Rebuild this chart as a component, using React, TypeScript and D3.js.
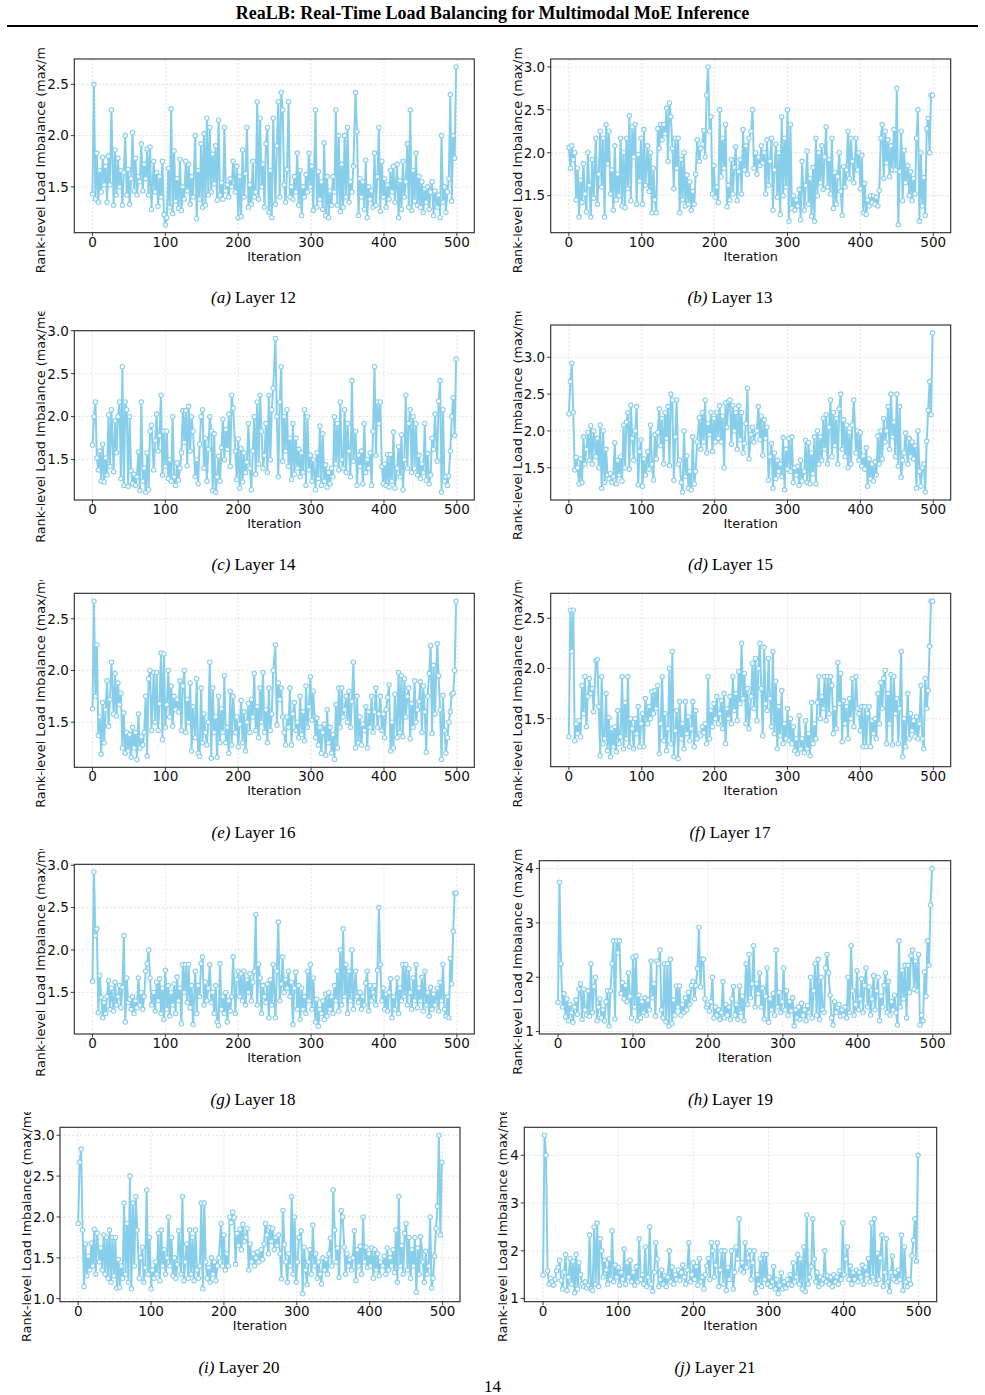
import React from 'react';
import * as d3 from 'd3';

// Every series runs over iterations 0..499, sampled about every 2 steps
const LAST_ITER = 499;

const layer12 = [
  1.43, 2.5, 1.38, 1.83, 1.35, 1.66, 1.45, 1.79, 1.52, 1.7,
  1.35, 1.8, 1.52, 2.25, 1.32, 1.86, 1.42, 1.78, 1.5, 1.66,
  1.32, 1.64, 2.0, 1.42, 1.67, 1.33, 1.58, 2.03, 1.46, 1.78,
  1.42, 1.6, 1.55, 1.92, 1.46, 1.72, 1.58, 1.87, 1.42, 1.89,
  1.28, 1.75, 1.45, 1.64, 1.31, 1.6, 1.4, 1.75, 1.23, 1.13,
  1.2, 1.68, 1.3, 2.26, 1.24, 1.85, 1.36, 1.58, 1.29, 1.77,
  1.27, 1.5, 1.38, 1.75, 1.46, 1.72, 1.33, 1.6, 1.4, 2.0,
  1.19, 1.66, 1.38, 1.92, 1.3, 2.02, 1.32, 2.17, 1.42, 2.08,
  1.45, 1.82, 1.53, 1.9, 1.37, 2.15, 1.42, 1.54, 1.38, 2.08,
  1.46, 1.52, 1.4, 1.58, 1.5, 1.75, 1.45, 1.7, 1.2, 1.6,
  1.21, 1.86, 1.4, 1.63, 2.08, 1.3, 1.52, 1.33, 1.75, 1.4,
  1.45, 2.33, 1.38, 2.17, 1.5, 1.72, 1.3, 1.92, 2.08, 1.25,
  1.66, 1.2, 2.17, 1.33, 1.9, 2.33, 1.4, 2.42, 2.25, 1.52,
  1.35, 1.67, 2.33, 1.4, 1.5, 1.38, 1.6, 1.45, 1.83, 1.32,
  1.66, 1.22, 1.5, 1.4, 1.62, 1.45, 1.83, 1.5, 1.7, 1.27,
  2.25, 1.3, 1.65, 1.38, 1.55, 1.28, 1.93, 1.22, 1.6, 1.2,
  1.46, 1.32, 1.6, 1.45, 2.25, 1.32, 2.0, 1.26, 1.72, 1.3,
  2.0, 1.4, 2.08, 1.35, 1.55, 1.45, 1.7, 2.42, 2.04, 1.22,
  1.58, 1.4, 1.55, 1.28, 1.76, 1.2, 1.5, 1.38, 1.46, 1.3,
  1.83, 1.32, 1.6, 2.08, 1.26, 1.75, 1.4, 1.58, 1.3, 1.52,
  1.38, 1.66, 1.45, 1.7, 1.35, 1.72, 1.2, 1.56, 1.28, 1.75,
  1.4, 1.55, 1.92, 1.3, 2.25, 1.27, 1.66, 1.36, 1.83, 1.32,
  1.6, 1.3, 1.55, 1.25, 1.48, 1.35, 1.5, 1.28, 1.45, 1.55,
  1.22, 1.46, 1.3, 1.42, 1.2, 2.0, 1.35, 1.5, 1.25, 1.45,
  1.58, 2.4, 1.36, 2.0, 1.78, 2.67,
];

const layer13 = [
  2.06, 1.82, 2.08, 1.92, 2.0, 1.45, 1.82, 1.25, 1.68, 1.42,
  1.87, 1.52, 1.31, 2.0, 1.62, 1.25, 1.92, 1.47, 2.17, 1.4,
  1.75, 2.25, 1.6, 2.17, 1.25, 2.33, 1.87, 2.25, 1.52, 1.8,
  1.33, 2.08, 1.45, 1.75, 1.5, 2.17, 1.38, 2.0, 1.36, 2.17,
  1.58, 2.43, 1.44, 2.3, 1.95, 2.33, 1.4, 1.98, 1.67, 2.17,
  1.4, 2.27, 1.62, 2.08, 1.55, 2.0, 1.3, 1.82, 1.45, 1.3,
  2.28, 2.05, 2.33, 2.15, 2.33, 2.22, 2.52, 1.9, 2.58, 2.42,
  2.05, 1.58, 2.17, 1.82, 2.17, 1.3, 1.92, 1.45, 2.0, 1.38,
  1.74, 1.4, 1.66, 1.33, 1.55, 1.4, 1.75, 2.15, 1.9, 2.05,
  2.1, 2.26, 1.95, 2.67, 3.0, 2.25, 2.42, 1.52, 1.85, 1.48,
  1.6, 1.42, 2.5, 1.72, 2.17, 1.82, 2.33, 1.37, 1.62, 1.45,
  1.92, 1.52, 1.83, 2.07, 1.44, 1.78, 1.92, 1.52, 2.27, 1.8,
  2.08, 1.75, 2.17, 2.25, 2.5, 1.82, 2.0, 1.75, 1.95, 1.85,
  2.08, 1.88, 2.0, 1.52, 2.15, 1.62, 1.9, 2.17, 1.33, 1.8,
  2.1, 1.48, 2.0, 1.28, 2.42, 1.5, 2.17, 1.6, 2.5, 1.2,
  2.33, 1.35, 1.5, 1.33, 1.45, 1.38, 1.57, 1.22, 1.9, 1.33,
  1.62, 2.02, 1.4, 1.7, 1.26, 1.83, 1.2, 2.17, 1.5, 2.0,
  1.65, 2.08, 1.57, 1.95, 2.3, 1.6, 1.92, 1.52, 2.17, 1.35,
  1.77, 1.4, 1.72, 2.0, 1.55, 1.27, 1.84, 1.6, 1.8, 2.25,
  1.7, 2.17, 1.9, 1.65, 2.17, 1.8, 2.0, 1.58, 1.97, 1.3,
  1.64, 1.28, 1.45, 1.38, 1.5, 1.42, 1.5, 1.4, 1.48, 1.38,
  1.56, 2.17, 2.33, 1.7, 2.25, 1.88, 2.15, 1.72, 2.08, 1.8,
  2.27, 1.8, 2.75, 1.16, 1.78, 2.25, 1.44, 2.03, 1.65, 1.85,
  1.5, 1.78, 1.44, 1.7, 1.52, 2.17, 2.5, 1.2, 2.0, 1.38,
  1.71, 1.27, 2.28, 2.4, 2.0, 2.67, 2.67,
];

const layer14 = [
  1.67, 2.0, 2.17, 1.52, 1.38, 1.6, 1.25, 1.68, 1.24, 1.52,
  1.32, 2.02, 1.42, 2.08, 1.36, 1.95, 1.58, 2.0, 2.17, 1.28,
  2.58, 1.2, 2.17, 2.08, 1.19, 2.0, 1.37, 1.22, 1.33, 1.2,
  1.3, 1.59, 1.14, 2.17, 1.25, 1.4, 1.12, 1.58, 1.15, 1.83,
  1.9, 1.38, 1.72, 2.03, 1.6, 1.78, 2.25, 1.32, 1.83, 1.42,
  1.83, 1.28, 1.5, 1.25, 2.0, 1.3, 1.2, 1.46, 1.26, 1.4,
  1.58, 2.07, 1.7, 2.07, 1.43, 2.12, 1.6, 2.0, 1.83, 1.3,
  1.5, 1.22, 1.68, 2.0, 2.08, 1.4, 1.75, 1.25, 1.62, 2.0,
  1.83, 1.14, 1.8, 1.12, 1.3, 1.54, 1.25, 1.64, 1.97, 1.5,
  1.85, 1.62, 2.03, 1.42, 2.25, 2.1, 1.6, 1.27, 1.74, 1.17,
  1.63, 1.24, 1.58, 1.35, 1.47, 1.92, 1.4, 1.15, 1.6, 2.0,
  1.33, 2.17, 1.45, 2.25, 1.83, 1.4, 1.55, 1.92, 1.35, 2.25,
  1.5, 2.08, 2.33, 2.91, 2.0, 1.3, 2.17, 2.58, 1.48, 2.0,
  1.6, 2.08, 1.42, 1.75, 1.27, 1.92, 1.33, 1.75, 1.4, 1.62,
  1.3, 1.58, 1.35, 2.08, 1.2, 2.0, 1.38, 1.55, 1.25, 1.5,
  1.15, 1.58, 1.28, 1.89, 1.2, 1.8, 1.25, 1.44, 1.18, 1.35,
  1.22, 1.4, 1.3, 2.0, 1.45, 1.92, 1.38, 2.17, 1.5, 1.4,
  2.08, 1.35, 1.92, 1.6, 1.3, 2.42, 1.48, 1.83, 1.2, 1.55,
  1.42, 1.6, 1.22, 1.92, 1.35, 1.5, 1.4, 1.58, 1.2, 1.83,
  2.58, 1.55, 2.17, 1.92, 2.17, 1.42, 1.22, 1.45, 1.2, 1.56,
  1.18, 1.56, 1.25, 1.82, 1.17, 1.4, 1.65, 1.3, 1.79, 1.15,
  1.5, 2.25, 1.4, 1.92, 2.08, 1.35, 2.0, 1.4, 1.92, 1.32,
  1.55, 1.28, 1.45, 1.35, 1.92, 1.26, 1.57, 1.22, 1.32, 1.75,
  1.62, 2.03, 1.48, 2.18, 2.42, 1.12, 2.08, 1.25, 1.3, 1.2,
  1.31, 1.6, 2.0, 2.22, 1.78, 2.67,
];

const layer15 = [
  2.23, 2.67, 2.92, 2.25, 1.47, 1.64, 1.5, 1.28, 1.62, 1.3,
  1.92, 1.55, 1.75, 1.98, 1.6, 2.07, 1.55, 2.0, 1.65, 1.9,
  1.5, 2.08, 1.22, 2.0, 1.3, 1.75, 1.4, 1.35, 1.42, 1.3,
  1.38, 1.84, 1.28, 1.6, 1.4, 1.65, 1.32, 2.08, 1.5, 2.12,
  2.25, 1.48, 2.35, 1.9, 1.6, 2.0, 2.33, 1.27, 1.72, 1.88,
  1.25, 1.62, 1.4, 1.72, 1.48, 2.08, 1.55, 1.33, 1.95, 1.62,
  1.98, 2.3, 1.8, 2.17, 1.55, 2.25, 1.9, 2.33, 1.53, 2.5,
  2.42, 1.33, 1.92, 2.42, 1.55, 1.6, 1.3, 1.17, 2.0, 1.38,
  1.66, 1.22, 1.45, 1.2, 1.92, 1.28, 1.45, 1.85, 2.18, 1.75,
  2.25, 1.85, 2.42, 1.7, 2.1, 1.95, 2.25, 1.72, 2.17, 1.85,
  2.25, 1.9, 2.34, 1.85, 2.2, 1.5, 2.38, 2.05, 2.4, 2.42,
  1.82, 2.35, 2.0, 2.25, 1.75, 2.34, 1.88, 2.25, 1.7, 1.83,
  2.1, 2.58, 1.62, 1.95, 2.05, 1.85, 1.98, 2.0, 2.33, 1.88,
  2.2, 1.67, 2.15, 1.9, 2.05, 1.33, 1.65, 1.83, 1.22, 1.7,
  1.35, 1.6, 1.45, 1.55, 1.38, 1.91, 1.2, 1.75, 1.48, 1.9,
  1.45, 1.92, 1.3, 1.5, 1.4, 1.52, 1.26, 1.6, 1.32, 1.45,
  1.87, 1.3, 1.84, 1.28, 1.7, 1.42, 1.92, 1.28, 2.0, 1.55,
  1.92, 1.6, 2.17, 1.75, 2.22, 1.55, 2.05, 2.42, 1.65, 2.25,
  1.8, 2.17, 1.55, 2.3, 2.5, 1.75, 2.15, 1.65, 2.08, 1.5,
  1.98, 1.55, 2.08, 2.42, 1.7, 2.0, 1.6, 1.98, 1.52, 1.66,
  1.48, 1.77, 1.25, 1.62, 1.35, 1.55, 1.32, 1.58, 1.4, 1.93,
  1.55, 2.0, 1.62, 2.17, 1.85, 2.0, 2.33, 1.75, 2.5, 1.92,
  2.12, 1.65, 2.5, 1.52, 2.33, 1.37, 1.6, 1.7, 1.97, 1.55,
  1.9, 1.65, 1.85, 1.62, 1.8, 1.22, 2.0, 1.45, 1.25, 1.5,
  1.55, 1.17, 1.86, 2.28, 2.67, 2.22, 3.33,
];

const layer16 = [
  1.63, 2.67, 1.75, 2.25, 1.37, 1.55, 1.19, 1.69, 1.3, 1.62,
  1.9, 1.46, 1.72, 2.08, 1.58, 1.97, 1.56, 1.88, 1.67, 1.78,
  1.25, 1.59, 1.2, 1.4, 1.22, 1.38, 1.16, 1.45, 1.25, 1.4,
  1.14, 1.58, 1.25, 1.36, 1.28, 1.4, 1.75, 1.17, 1.92, 2.0,
  1.42, 1.98, 1.5, 1.98, 1.42, 1.68, 2.17, 1.33, 2.16, 1.45,
  1.67, 2.0, 1.55, 1.85, 1.46, 1.75, 1.62, 1.72, 1.6, 1.9,
  1.42, 1.85, 2.0, 1.4, 1.72, 1.5, 1.88, 1.22, 1.65, 1.35,
  1.92, 1.2, 1.17, 1.83, 1.3, 1.58, 1.4, 1.28, 1.5, 2.08,
  1.15, 1.83, 1.4, 1.55, 1.16, 1.75, 1.3, 1.63, 1.4, 1.95,
  1.3, 1.45, 1.2, 1.8, 1.28, 1.75, 1.4, 1.55, 1.26, 1.48,
  1.71, 1.3, 1.6, 1.22, 1.5, 1.68, 1.4, 1.72, 1.55, 1.97,
  1.42, 1.65, 1.35, 1.83, 1.5, 1.98, 1.4, 1.62, 1.3, 1.83,
  1.42, 1.58, 2.0, 2.25, 1.47, 1.88, 1.72, 1.83, 1.55, 1.4,
  1.28, 1.55, 1.45, 1.83, 1.28, 1.58, 1.69, 1.42, 1.5, 1.35,
  1.75, 1.38, 1.6, 1.32, 1.85, 1.45, 1.65, 1.94, 1.52, 1.8,
  1.35, 1.54, 1.28, 1.45, 1.2, 1.4, 1.48, 1.18, 1.62, 1.3,
  1.45, 1.2, 1.38, 1.14, 1.67, 1.25, 1.83, 1.45, 1.83, 1.55,
  1.62, 1.75, 1.5, 1.8, 1.45, 1.7, 2.08, 1.25, 1.75, 1.3,
  1.55, 1.28, 1.48, 1.42, 1.65, 1.25, 1.6, 1.45, 1.75, 1.4,
  1.6, 1.83, 1.45, 1.58, 1.75, 1.42, 1.58, 1.35, 1.62, 1.74,
  1.86, 1.22, 1.5, 1.25, 1.77, 1.35, 1.98, 1.4, 1.95, 1.36,
  1.92, 1.55, 1.75, 1.83, 1.34, 1.68, 1.45, 1.9, 1.5, 1.62,
  1.7, 1.89, 1.4, 1.85, 1.6, 1.21, 1.75, 1.97, 2.24, 1.39,
  2.05, 1.58, 2.26, 1.95, 1.62, 1.14, 1.76, 1.42, 1.2, 1.35,
  1.5, 1.6, 1.77, 1.78, 2.0, 2.67,
];

const layer17 = [
  1.32, 2.58, 2.17, 2.58, 1.28, 1.45, 1.35, 1.48, 1.32, 1.83,
  1.55, 1.92, 1.42, 1.72, 1.9, 1.75, 1.8, 1.57, 2.08, 2.09,
  1.62, 1.13, 1.92, 1.25, 1.3, 1.75, 1.18, 1.51, 1.12, 1.4,
  1.22, 1.42, 1.17, 1.58, 1.25, 1.32, 1.92, 1.2, 1.66, 1.3,
  1.92, 1.22, 1.5, 1.4, 1.2, 1.5, 1.35, 1.62, 1.22, 1.45,
  1.55, 1.22, 1.7, 1.45, 1.62, 1.5, 1.77, 1.55, 1.78, 1.6,
  1.83, 1.15, 1.45, 1.92, 1.28, 1.55, 1.18, 1.4, 2.0, 1.25,
  2.17, 1.12, 1.38, 1.58, 1.1, 1.67, 1.3, 1.45, 1.2, 1.67,
  1.35, 1.52, 1.28, 1.4, 1.67, 1.22, 1.58, 1.3, 1.35, 1.33,
  1.42, 1.36, 1.45, 1.25, 1.92, 1.3, 1.58, 1.42, 1.65, 1.5,
  1.72, 1.45, 1.55, 1.68, 1.4, 1.75, 1.25, 1.6, 1.5, 1.72,
  1.45, 1.92, 1.58, 1.75, 1.48, 1.97, 1.65, 2.25, 1.7, 1.95,
  1.45, 1.8, 1.4, 1.72, 2.05, 1.6, 2.1, 1.48, 2.0, 2.25,
  1.8, 1.33, 2.21, 1.65, 1.58, 2.1, 1.7, 1.42, 2.17, 1.35,
  1.87, 1.2, 1.62, 1.33, 1.78, 1.25, 1.45, 1.3, 1.6, 1.28,
  1.5, 1.25, 1.42, 1.18, 1.3, 1.15, 1.53, 1.2, 1.3, 1.16,
  1.48, 1.2, 1.35, 1.13, 1.66, 1.25, 1.45, 1.3, 1.66, 1.92,
  1.5, 1.72, 1.6, 1.92, 1.48, 1.92, 1.55, 1.92, 1.83, 1.35,
  1.6, 1.4, 2.06, 1.65, 1.95, 1.27, 1.68, 1.45, 1.62, 1.3,
  1.7, 1.5, 1.9, 1.42, 1.92, 1.6, 1.55, 1.38, 1.62, 1.22,
  1.62, 1.22, 1.55, 1.62, 1.22, 1.48, 1.35, 1.5, 1.3, 1.75,
  1.45, 1.86, 1.6, 1.9, 1.98, 1.25, 1.75, 1.45, 1.94, 1.24,
  1.92, 1.55, 1.7, 1.25, 1.6, 2.17, 1.12, 1.5, 1.22, 1.75,
  1.3, 1.55, 1.38, 1.48, 1.32, 1.52, 1.3, 1.45, 1.83, 1.3,
  1.2, 1.9, 1.6, 1.78, 2.22, 2.67, 2.67,
];

const layer18 = [
  1.63, 2.92, 2.17, 2.25, 1.26, 1.7, 1.44, 1.2, 1.38, 1.25,
  1.45, 1.64, 1.3, 1.55, 1.28, 1.62, 1.35, 1.45, 1.58, 1.32,
  1.56, 2.17, 1.15, 1.67, 1.38, 1.42, 1.3, 1.45, 1.25, 1.4,
  1.32, 1.67, 1.35, 1.5, 1.3, 1.45, 1.75, 1.84, 2.0, 1.67,
  1.35, 1.5, 1.28, 1.62, 1.4, 1.66, 1.25, 1.55, 1.18, 1.76,
  1.3, 1.58, 1.22, 1.5, 1.35, 1.6, 1.25, 1.68, 1.4, 1.55,
  1.13, 1.83, 1.5, 1.83, 1.38, 1.83, 1.32, 1.58, 1.12, 1.75,
  1.25, 1.58, 1.45, 1.84, 1.92, 1.35, 1.62, 1.4, 1.55, 1.83,
  1.38, 1.5, 1.25, 1.58, 1.15, 1.11, 1.84, 1.3, 1.45, 1.25,
  1.5, 1.15, 1.4, 1.28, 1.45, 1.92, 1.25, 1.65, 1.75, 1.45,
  1.72, 1.4, 1.75, 1.35, 1.65, 1.5, 1.72, 1.4, 1.62, 1.75,
  2.42, 1.35, 1.83, 1.67, 1.25, 1.58, 1.45, 1.38, 1.6, 1.2,
  1.65, 1.35, 1.83, 1.2, 1.75, 2.33, 1.4, 1.6, 1.92, 1.5,
  1.65, 1.55, 1.75, 1.45, 1.62, 1.12, 1.55, 1.74, 1.3, 1.58,
  1.18, 1.55, 1.3, 1.45, 1.25, 1.75, 1.4, 1.83, 1.3, 1.67,
  1.15, 1.42, 1.1, 1.3, 1.25, 1.4, 1.18, 1.48, 1.22, 1.5,
  1.3, 1.45, 1.25, 1.58, 1.4, 1.75, 1.28, 2.0, 1.35, 2.25,
  1.45, 1.83, 1.25, 1.75, 1.4, 2.0, 1.3, 1.75, 1.45, 1.38,
  1.5, 1.3, 1.45, 1.35, 1.61, 1.75, 1.28, 1.58, 1.4, 1.5,
  1.58, 1.35, 1.76, 2.5, 1.83, 1.4, 1.55, 1.3, 1.48, 1.28,
  1.5, 1.66, 1.2, 1.45, 1.3, 1.67, 1.25, 1.55, 1.4, 1.83,
  1.45, 1.83, 1.35, 1.78, 1.5, 1.3, 1.67, 1.4, 1.83, 1.32,
  1.55, 1.4, 1.68, 1.28, 1.75, 1.35, 1.5, 1.22, 1.56, 1.3,
  1.48, 1.35, 1.55, 1.28, 1.62, 1.4, 1.83, 1.3, 1.22, 1.45,
  1.2, 1.9, 1.6, 2.22, 2.67, 2.67,
];

const layer19 = [
  1.54, 3.75, 2.25, 1.45, 1.7, 1.27, 1.6, 1.2, 1.5, 1.35,
  1.17, 1.45, 1.58, 1.32, 1.78, 1.88, 1.22, 1.78, 1.4, 1.3,
  1.75, 1.28, 2.25, 1.35, 1.83, 2.0, 1.2, 1.45, 1.6, 1.25,
  1.4, 1.2, 1.55, 1.75, 1.1, 1.75, 2.25, 2.67, 1.23, 2.67,
  2.45, 2.67, 1.7, 1.9, 1.6, 1.85, 1.55, 2.08, 1.65, 1.25,
  2.37, 1.45, 2.39, 1.2, 1.67, 1.25, 1.55, 1.35, 1.62, 1.3,
  1.58, 1.4, 2.3, 1.62, 1.88, 1.28, 2.3, 2.25, 2.5, 1.4,
  1.25, 2.25, 1.18, 2.25, 1.1, 2.33, 1.15, 1.58, 1.3, 1.84,
  1.45, 1.84, 1.3, 1.5, 1.35, 1.62, 1.4, 1.72, 1.5, 1.85,
  1.92, 1.6, 1.85, 2.16, 2.92, 1.82, 2.33, 2.33, 1.6, 1.45,
  1.5, 1.38, 1.55, 2.0, 1.25, 1.45, 1.3, 1.4, 1.22, 1.35,
  1.92, 1.25, 1.5, 1.3, 1.45, 1.22, 1.6, 1.83, 1.3, 1.5,
  1.22, 1.84, 1.35, 1.65, 1.2, 2.25, 1.5, 2.42, 1.62, 1.88,
  2.58, 1.45, 1.88, 1.7, 2.08, 1.45, 1.8, 1.23, 1.65, 2.17,
  1.17, 1.6, 1.4, 1.7, 1.3, 2.5, 1.45, 1.72, 1.35, 1.55,
  2.17, 1.4, 1.75, 1.3, 1.55, 1.38, 1.62, 1.1, 1.4, 1.25,
  1.45, 1.22, 1.52, 1.3, 1.4, 1.2, 1.48, 1.35, 2.0, 1.25,
  1.75, 2.25, 1.3, 2.33, 1.22, 2.0, 1.4, 1.35, 2.17, 2.42,
  2.08, 1.67, 1.25, 1.12, 1.55, 1.35, 1.45, 1.5, 1.28, 1.4,
  1.3, 1.45, 1.25, 2.0, 1.35, 2.58, 1.75, 1.3, 1.5, 2.12,
  1.4, 1.6, 1.97, 1.35, 1.85, 2.17, 1.45, 1.82, 1.3, 1.6,
  2.03, 1.4, 1.75, 2.0, 1.2, 1.65, 1.45, 1.85, 2.08, 1.35,
  1.92, 1.3, 1.55, 1.4, 1.67, 1.35, 1.12, 2.67, 1.45, 2.13,
  1.6, 2.22, 1.25, 2.22, 1.72, 2.4, 2.5, 1.78, 2.3, 1.75,
  2.42, 1.12, 1.3, 1.2, 2.1, 1.65, 2.67, 2.22, 3.33, 4.0,
];

const layer20 = [
  1.92, 2.67, 2.83, 1.84, 1.15, 1.67, 1.28, 1.52, 1.35, 1.68,
  1.4, 1.85, 1.3, 1.8, 1.45, 1.62, 1.35, 1.78, 1.3, 1.75,
  1.25, 1.84, 1.2, 1.75, 1.28, 1.75, 1.13, 1.48, 1.14, 1.4,
  1.25, 2.17, 1.3, 1.92, 1.2, 2.5, 1.12, 2.17, 1.4, 2.25,
  1.84, 1.25, 1.5, 1.63, 1.2, 1.38, 2.33, 1.3, 1.75, 1.12,
  1.35, 1.25, 1.45, 1.3, 1.8, 1.22, 1.84, 1.4, 1.6, 1.3,
  1.5, 2.0, 1.4, 1.75, 1.28, 1.5, 1.25, 1.42, 1.83, 1.3,
  2.25, 1.22, 1.45, 1.67, 1.25, 1.84, 1.3, 1.75, 1.22, 1.84,
  1.35, 1.25, 1.4, 2.17, 1.12, 2.17, 1.45, 1.25, 1.38, 1.2,
  1.5, 1.3, 1.45, 1.22, 1.4, 1.5, 1.92, 1.4, 1.78, 1.35,
  1.55, 1.4, 2.0, 1.93, 2.06, 1.99, 1.42, 1.8, 1.65, 1.85,
  1.6, 1.91, 1.7, 1.75, 1.86, 1.35, 1.67, 1.45, 1.55, 1.4,
  1.5, 1.57, 1.45, 1.6, 1.48, 1.67, 1.92, 1.78, 1.55, 1.87,
  1.7, 1.86, 1.6, 1.75, 1.65, 1.78, 1.55, 1.24, 2.08, 1.66,
  1.45, 1.2, 1.55, 1.4, 2.25, 1.3, 2.0, 1.2, 1.45, 1.75,
  1.83, 1.06, 1.63, 1.35, 1.17, 1.45, 1.6, 1.3, 1.9, 1.4,
  1.55, 1.25, 1.45, 1.3, 1.18, 1.5, 1.35, 1.48, 1.3, 1.55,
  1.74, 1.4, 2.33, 1.84, 1.45, 1.62, 1.26, 2.08, 2.0, 1.63,
  1.3, 1.55, 1.4, 1.48, 1.35, 1.5, 1.83, 1.22, 1.6, 1.4,
  1.64, 1.3, 2.0, 1.45, 1.63, 1.38, 1.55, 1.4, 1.62, 1.25,
  1.6, 1.35, 1.55, 1.28, 1.45, 1.4, 1.52, 1.3, 1.62, 1.35,
  1.5, 1.4, 1.6, 1.32, 1.84, 1.2, 2.25, 1.4, 1.65, 1.3,
  1.8, 1.92, 1.35, 1.75, 1.25, 1.6, 1.4, 1.75, 1.08, 1.62,
  1.3, 1.76, 1.45, 1.2, 1.58, 1.3, 1.4, 2.0, 1.13, 1.25,
  1.52, 1.86, 2.13, 3.0, 1.78, 2.67,
];

const layer21 = [
  1.49, 4.42, 4.0, 1.58, 1.3, 1.42, 1.35, 1.28, 1.4, 1.58,
  1.65, 1.8, 1.38, 1.2, 1.55, 1.92, 1.17, 1.45, 1.84, 1.3,
  1.78, 1.12, 1.92, 1.2, 1.75, 1.5, 1.3, 1.25, 1.35, 1.22,
  1.28, 2.33, 1.2, 1.17, 2.5, 1.3, 2.58, 1.25, 2.25, 2.0,
  1.45, 1.8, 1.6, 1.3, 1.83, 1.4, 2.42, 1.35, 1.7, 1.45,
  1.65, 1.28, 1.55, 1.4, 2.04, 1.3, 1.75, 1.45, 1.8, 1.35,
  1.55, 1.28, 1.67, 1.35, 2.25, 1.4, 1.5, 1.3, 2.08, 1.25,
  1.45, 2.5, 1.3, 1.15, 1.55, 2.17, 1.83, 1.25, 1.4, 1.6,
  1.3, 1.48, 1.25, 1.45, 2.0, 1.35, 1.66, 1.3, 1.5, 1.4,
  1.6, 1.38, 1.55, 1.7, 1.45, 1.3, 1.6, 2.17, 1.35, 1.5,
  1.75, 1.4, 1.67, 1.28, 1.84, 1.35, 1.45, 1.2, 1.5, 1.68,
  1.84, 1.4, 2.17, 2.0, 1.45, 1.7, 2.17, 1.25, 1.6, 2.0,
  1.3, 2.0, 1.17, 1.65, 1.4, 2.0, 1.2, 1.55, 2.08, 1.83,
  2.67, 1.6, 1.75, 1.55, 2.17, 1.65, 1.85, 2.0, 1.4, 1.75,
  2.0, 1.12, 1.5, 1.3, 1.83, 1.25, 1.92, 1.4, 1.92, 1.3,
  1.45, 1.25, 1.35, 1.67, 1.2, 1.4, 1.1, 1.28, 1.54, 1.2,
  1.35, 1.22, 1.4, 1.3, 1.5, 1.28, 1.75, 1.35, 1.45, 1.92,
  1.3, 1.83, 1.2, 2.08, 1.15, 2.75, 1.3, 1.45, 1.67, 2.67,
  1.83, 1.35, 1.55, 1.25, 1.45, 1.3, 1.4, 2.0, 1.35, 1.48,
  1.3, 1.45, 1.25, 1.5, 1.35, 1.45, 1.3, 1.58, 1.4, 2.58,
  1.5, 1.83, 2.08, 1.4, 1.68, 1.3, 1.55, 1.4, 1.6, 1.35,
  1.55, 1.45, 1.7, 1.3, 1.65, 1.5, 1.84, 1.35, 2.58, 1.45,
  2.67, 1.3, 1.95, 1.4, 1.85, 2.33, 1.25, 1.55, 2.25, 1.35,
  1.15, 1.55, 1.89, 1.4, 1.55, 1.35, 1.6, 1.4, 2.33, 1.17,
  2.08, 1.35, 1.25, 1.4, 1.3, 1.9, 2.22, 2.67, 1.78, 4.0,
];

const X_TICKS = [0, 100, 200, 300, 400, 500];
const TICKS_LOW = [1.5, 2.0, 2.5];
const TICKS_MID = [1.5, 2.0, 2.5, 3.0];
const TICKS_WIDE = [1.0, 1.5, 2.0, 2.5, 3.0];
const TICKS_INT = [1, 2, 3, 4];

const Y_LABEL = 'Rank-level Load Imbalance (max/mean)';
const SKY = '#87ceeb';
const SANS = 'DejaVu Sans, sans-serif';
const SERIF = 'Liberation Serif, Times New Roman, serif';

interface PanelSpec {
  tag: string;
  layer: number;
  values: number[];
  ticks: number[];
  fmt: string;
  box: [number, number, number, number]; // left, top, right, bottom
  capX: number;
  capY: number;
  clipTop: number;
  labelGap: number;
}

const panels: PanelSpec[] = [
  { tag: 'a', layer: 12, values: layer12, ticks: TICKS_LOW, fmt: '.1f', box: [74.3, 59, 474.3, 232.7], capX: 253.5, capY: 302.5, clipTop: 47.5, labelGap: 29 },
  { tag: 'b', layer: 13, values: layer13, ticks: TICKS_MID, fmt: '.1f', box: [550.7, 59, 950.7, 232.7], capX: 730, capY: 302.5, clipTop: 47.5, labelGap: 29 },
  { tag: 'c', layer: 14, values: layer14, ticks: TICKS_MID, fmt: '.1f', box: [74.3, 330.7, 474.3, 500], capX: 253.5, capY: 569.5, clipTop: 311.5, labelGap: 29 },
  { tag: 'd', layer: 15, values: layer15, ticks: TICKS_MID, fmt: '.1f', box: [550.7, 325, 950.7, 500], capX: 730.5, capY: 569.5, clipTop: 311.5, labelGap: 29 },
  { tag: 'e', layer: 16, values: layer16, ticks: TICKS_LOW, fmt: '.1f', box: [74.3, 593.3, 474.3, 767.3], capX: 253.5, capY: 838, clipTop: 580, labelGap: 29 },
  { tag: 'f', layer: 17, values: layer17, ticks: TICKS_LOW, fmt: '.1f', box: [550.7, 593.3, 950.7, 766.7], capX: 730, capY: 838, clipTop: 580, labelGap: 29 },
  { tag: 'g', layer: 18, values: layer18, ticks: TICKS_MID, fmt: '.1f', box: [74.3, 864.3, 474.3, 1034], capX: 253, capY: 1104.5, clipTop: 849, labelGap: 29 },
  { tag: 'h', layer: 19, values: layer19, ticks: TICKS_INT, fmt: 'd', box: [539.3, 860.7, 950.7, 1034], capX: 730.5, capY: 1104.5, clipTop: 849, labelGap: 17 },
  { tag: 'i', layer: 20, values: layer20, ticks: TICKS_WIDE, fmt: '.1f', box: [60, 1127.3, 460, 1301.7], capX: 239, capY: 1373, clipTop: 1112, labelGap: 29 },
  { tag: 'j', layer: 21, values: layer21, ticks: TICKS_INT, fmt: 'd', box: [524.3, 1127.3, 936.7, 1301.7], capX: 715, capY: 1373, clipTop: 1112, labelGap: 17 },
];

function Panel({ p }: { p: PanelSpec }) {
  const [l, t, r, b] = p.box;
  const n = p.values.length;
  // sample index -> iteration number
  const iterOf = (i: number) => Math.round((i * LAST_ITER) / (n - 1));
  // 5% padding on both axes, like matplotlib's default margins
  const x = d3.scaleLinear().domain([-0.05 * LAST_ITER, 1.05 * LAST_ITER]).range([l, r]);
  const [lo, hi] = d3.extent(p.values) as [number, number];
  const pad = (hi - lo) * 0.05;
  const y = d3.scaleLinear().domain([lo - pad, hi + pad]).range([b, t]);
  const pts = p.values.map((v, i) => [x(iterOf(i)), y(v)] as [number, number]);
  const path = d3.line()(pts) ?? '';
  const fmt = d3.format(p.fmt);
  const clipId = `ylab-${p.tag}`;
  const midY = (t + b) / 2;
  const labelX = l - p.labelGap;

  return (
    <g>
      <defs>
        <clipPath id={clipId}>
          <rect x={0} y={p.clipTop} width={985} height={1395 - p.clipTop} />
        </clipPath>
      </defs>

      {/* grid */}
      {X_TICKS.map((v) => (
        <line key={`gx${v}`} x1={x(v)} x2={x(v)} y1={t} y2={b} stroke="#dadada" strokeWidth={0.8} strokeDasharray="2,2" />
      ))}
      {p.ticks.map((v) => (
        <line key={`gy${v}`} x1={l} x2={r} y1={y(v)} y2={y(v)} stroke="#dadada" strokeWidth={0.8} strokeDasharray="2,2" />
      ))}

      {/* series */}
      <path d={path} fill="none" stroke={SKY} strokeWidth={2} strokeLinejoin="round" />
      {pts.map(([cx, cy], i) => (
        <circle key={i} cx={cx} cy={cy} r={2.2} fill="#fff" stroke={SKY} strokeWidth={1.1} />
      ))}

      {/* frame */}
      <rect x={l} y={t} width={r - l} height={b - t} fill="none" stroke="#262626" strokeWidth={1.1} />

      {/* x axis */}
      {X_TICKS.map((v) => (
        <g key={`tx${v}`}>
          <line x1={x(v)} x2={x(v)} y1={b} y2={b + 3.5} stroke="#262626" strokeWidth={0.9} />
          <text x={x(v)} y={b + 14} textAnchor="middle" fontFamily={SANS} fontSize={13.5} fill="#111">
            {v}
          </text>
        </g>
      ))}
      <text x={(l + r) / 2} y={b + 28} textAnchor="middle" fontFamily={SANS} fontSize={12.8} fill="#111">
        Iteration
      </text>

      {/* y axis */}
      {p.ticks.map((v) => (
        <g key={`ty${v}`}>
          <line x1={l - 3.5} x2={l} y1={y(v)} y2={y(v)} stroke="#262626" strokeWidth={0.9} />
          <text x={l - 5.5} y={y(v)} dy="0.36em" textAnchor="end" fontFamily={SANS} fontSize={13.5} fill="#111">
            {fmt(v)}
          </text>
        </g>
      ))}
      <g clipPath={`url(#${clipId})`}>
        <text
          transform={`translate(${labelX},${midY}) rotate(-90)`}
          textAnchor="middle"
          fontFamily={SANS}
          fontSize={12.8}
          fill="#111"
        >
          {Y_LABEL}
        </text>
      </g>

      {/* caption */}
      <text x={p.capX} y={p.capY} textAnchor="middle" fontFamily={SERIF} fontSize={17} fill="#000">
        <tspan fontStyle="italic">{`(${p.tag})`}</tspan>
        {` Layer ${p.layer}`}
      </text>
    </g>
  );
}

export default function App() {
  return (
    <div style={{ position: 'absolute', left: 0, top: 0, background: '#fff' }}>
      <svg width={985} height={1395} viewBox="0 0 985 1395" style={{ display: 'block' }}>
        <rect width={985} height={1395} fill="#fff" />
        <text x={492.5} y={18.5} textAnchor="middle" fontFamily={SERIF} fontWeight="bold" fontSize={18} fill="#000">
          ReaLB: Real-Time Load Balancing for Multimodal MoE Inference
        </text>
        <line x1={7} x2={978} y1={26} y2={26} stroke="#000" strokeWidth={1.8} />
        {panels.map((p) => (
          <Panel key={p.tag} p={p} />
        ))}
        <text x={492.5} y={1391.5} textAnchor="middle" fontFamily={SERIF} fontSize={17} fill="#000">
          14
        </text>
      </svg>
    </div>
  );
}
